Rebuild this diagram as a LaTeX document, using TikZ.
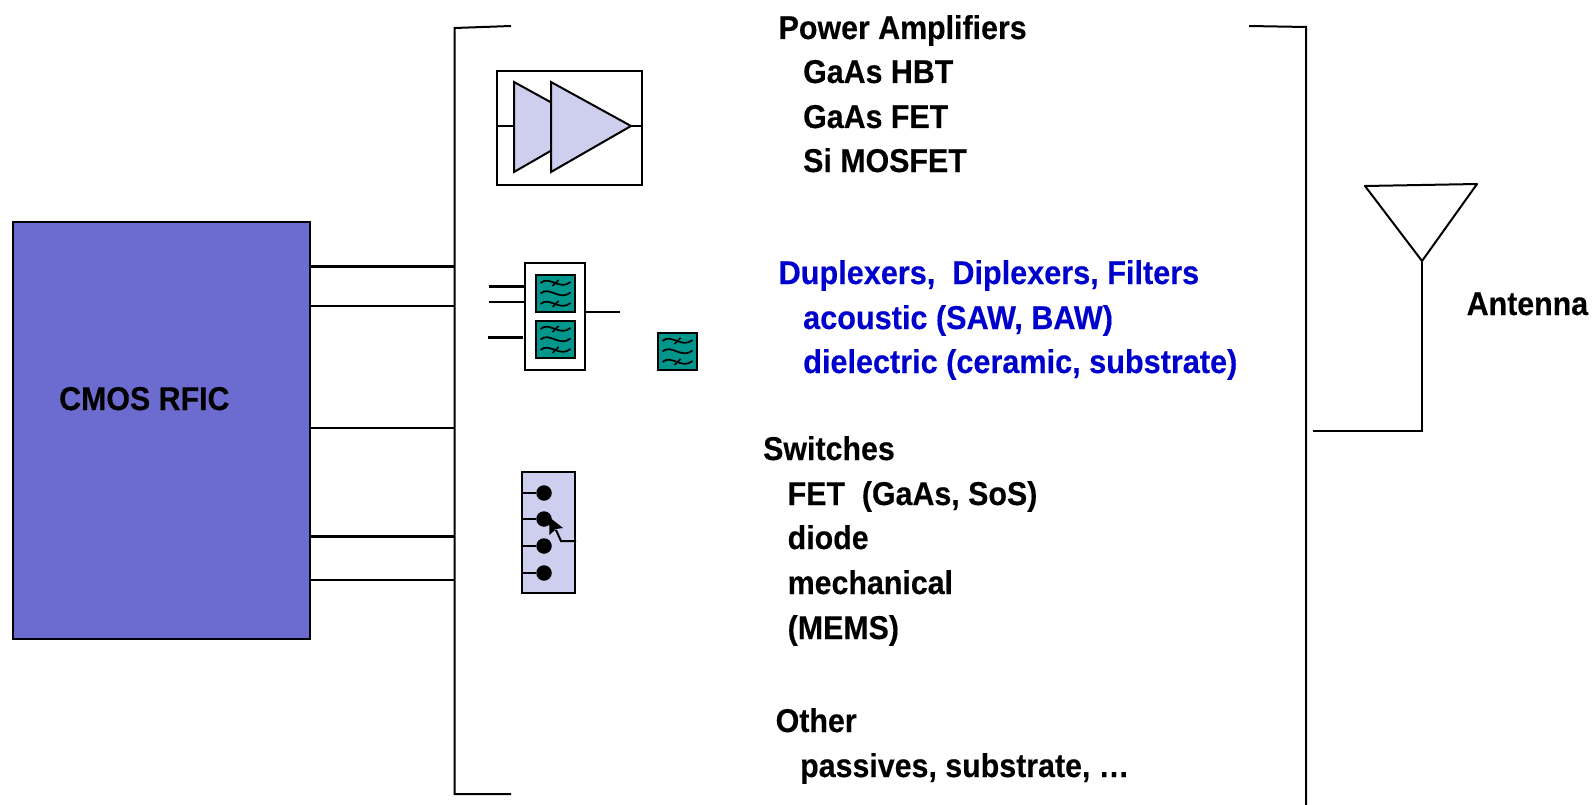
\documentclass[tikz,border=0pt]{standalone}
\usepackage{fontspec}
\setmainfont{Liberation Sans}[BoldFeatures={FakeBold=0.3}]
\definecolor{rfic}{RGB}{108,108,208}
\definecolor{lilac}{RGB}{206,206,238}
\definecolor{teal2}{RGB}{0,150,140}
\definecolor{blue2}{RGB}{0,0,205}
\tikzset{x=1pt,y=-1pt,
 wire/.style={black,line width=2pt},
 thick wire/.style={black,line width=3pt},
 lab/.style={anchor=base west,inner sep=0pt,font=\fontsize{33}{36}\selectfont\bfseries,xscale=0.92},
 bluelab/.style={lab,text=blue2,xscale=1.009},
 part/.style={draw=black,line width=2pt},
 wave/.style={black,line width=1.7pt}}
\newcommand{\filt}[3]{%
 \node[part,fill=teal2,minimum width=39pt,minimum height=37pt,inner sep=0pt,anchor=center] (#3) at (#1,#2) {};
 \foreach \d in {-10.5,0,10.5}{
  \draw[wave] (#1-15,#2+\d) .. controls (#1-6,#2+\d-8) and (#1+4,#2+\d+8) .. (#1+15,#2+\d-1);}
 \draw[wave] (#1-3,#2-7.5) -- (#1+3,#2-13.5);
 \draw[wave] (#1-3,#2+13.5) -- (#1+3,#2+7.5);
}
\begin{document}
\begin{tikzpicture}
\useasboundingbox (0,0) rectangle (1594,805);
% RFIC
\node[part,fill=rfic,minimum width=297pt,minimum height=417pt,inner sep=0pt,anchor=north west] (rfic) at (12,220.5) {};
\node[lab] (rficlab) at (59,410) {CMOS RFIC};
% brackets
\coordinate (blt) at (511,26); \coordinate (blb) at (511,794);
\coordinate (brt) at (1249,26); \coordinate (brb) at (1306,805);
\draw[wire] (blt) -- (454.5,28) -- (454.5,794) -- (blb);
\draw[wire] (brt) -- (1306,27) -- (brb);
% bus
\foreach \y/\w in {266.5/thick wire,305.5/wire,428/wire,536/thick wire,580/wire}{
  \draw[\w] (309,\y) -- (454.5,\y);}
% PA
\node[part,minimum width=145pt,minimum height=114pt,inner sep=0pt,anchor=north west] (pabox) at (496,70) {};
\draw[wire] (pabox.west |- 0,126) -- (514,126);
\draw[part,fill=lilac] (514,82) -- (594,126) -- (514,172) -- cycle;
\draw[part,fill=lilac] (551,82) -- (631,126) -- (551,172) -- cycle;
\draw[wire] (631,126) -- (pabox.east |- 0,126);
% duplexer
\node[part,minimum width=60pt,minimum height=107pt,inner sep=0pt,anchor=north west] (dup) at (524,262) {};
\filt{555.5}{293.5}{fa}
\filt{555.5}{339.5}{fb}
\filt{677.5}{351.5}{fc}
\coordinate (d1) at (489,286); \coordinate (d2) at (489,302); \coordinate (d3) at (488,337); \coordinate (d4) at (620,312);
\draw[thick wire] (d1) -- (dup.west |- d1);
\draw[wire] (d2) -- (dup.west |- d2);
\draw[thick wire] (d3) -- (523,337);
\draw[wire] (dup.east |- d4) -- (d4);
% switch
\node[part,fill=lilac,minimum width=53pt,minimum height=121pt,inner sep=0pt,anchor=north west] (sw) at (521,471) {};
\foreach \y/\n in {493/p,519/q,546/r,573/s}{
  \node[circle,fill=black,minimum size=15.5pt,inner sep=0pt] (\n) at (544,\y) {};
  \draw[wire] (sw.west |- \n) -- (\n);}
\coordinate (swr) at (sw.east |- 0,541);
\draw[wire] (swr) -- (561,541) -- (556,530);
\fill[black] (549,517) -- (563,528) -- (556,529) -- (549.5,535) -- cycle;
% antenna
\coordinate (a1) at (1312.5,431); \coordinate (a2) at (1422,431); \coordinate (a3) at (1422,261);
\draw[wire] (a1) -- (a2) -- (a3);
\draw[wire,line join=round] (a3) -- (1365,186) -- (1477,184) -- cycle;
\node[lab] (ant) at (1466.5,315) {Antenna};
% texts
\node[lab] at (778.5,39) {Power Amplifiers};
\node[lab] at (803,83) {GaAs HBT};
\node[lab] at (803,128) {GaAs FET};
\node[lab] at (803,172) {Si MOSFET};
\node[bluelab] at (778.5,284) {Duplexers,\ \ Diplexers, Filters};
\node[bluelab] at (803,329) {acoustic (SAW, BAW)};
\node[bluelab] at (803,373) {dielectric (ceramic, substrate)};
\node[lab] at (763,460) {Switches};
\node[lab] at (787.5,505) {FET\ \ (GaAs, SoS)};
\node[lab] at (787.5,549) {diode};
\node[lab] at (787.5,594) {mechanical};
\node[lab] at (787.5,639) {(MEMS)};
\node[lab] at (775.5,732) {Other};
\node[lab] at (800,777) {passives, substrate, …};
\end{tikzpicture}
\end{document}
